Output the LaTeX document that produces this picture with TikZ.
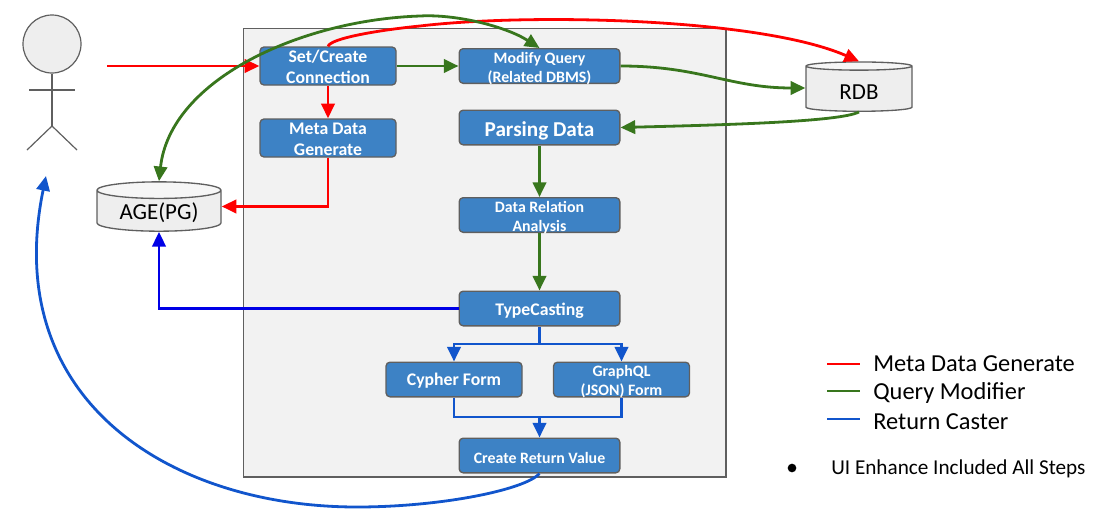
\documentclass[tikz,border=0pt]{standalone}
\usepackage{fontspec}
\setmainfont{Carlito}
\usepackage{xcolor}
\usetikzlibrary{arrows.meta, shapes.geometric}
\definecolor{boxblue}{HTML}{3D82C5}
\definecolor{edgegray}{HTML}{5F5F5F}
\definecolor{metared}{HTML}{FF0000}
\definecolor{querygreen}{HTML}{38761D}
\definecolor{castblue}{HTML}{1155CC}
\definecolor{pureblue}{HTML}{0000E6}
\newcommand{\boxtext}[2][6pt]{\raisebox{-#1}[0pt][0pt]{\begin{tabular}{@{}c@{}}#2\end{tabular}}}
\tikzset{
  procbox/.style={rectangle, draw=edgegray, line width=1pt, fill=boxblue, rounded corners=3pt,
                  inner sep=0pt, align=center, text=white, font=\fontsize{13.3}{14.5}\selectfont\bfseries},
  smalltext/.style={font=\fontsize{11.9}{14}\selectfont\bfseries},
  wide/.style={procbox, minimum width=120.5pt},
  narrow/.style={procbox, minimum width=102pt},
  dbcyl/.style={cylinder, shape border rotate=90, draw=edgegray, line width=1pt, aspect=0.21,
                cylinder uses custom fill, cylinder body fill=gray!13, cylinder end fill=gray!7,
                inner sep=0pt, font=\fontsize{17.2}{18}\selectfont},
  arr/.style={-{Triangle[length=11pt, width=10pt]}, line width=2.1pt},
  arrboth/.style={{Triangle[length=11pt, width=10pt]}-{Triangle[length=11pt, width=10pt]}, line width=2.1pt},
  plainline/.style={line width=2.1pt},
  stickman/.style={draw=edgegray, line width=0.9pt},
  legtext/.style={anchor=west, inner sep=0pt, font=\fontsize{18.3}{20}\selectfont},
}

\begin{document}
\begin{tikzpicture}[x=0.75pt, y=-0.75pt]
  \useasboundingbox (0,0) rectangle (1095,518);

  % Panel behind the steps
  \node[rectangle, draw=edgegray, line width=1pt, fill=gray!10, minimum width=362pt, minimum height=336.5pt,
        inner sep=0pt] at (484.5,252.5) (panel) {};

  % User
  \node[circle, stickman, fill=gray!13, minimum size=43.5pt, inner sep=0pt] at (52,44) (head) {};
  \coordinate (hip) at (52,126);
  \coordinate (armL) at (29,90);
  \coordinate (armR) at (75,90);
  \coordinate (footL) at (27,150);
  \coordinate (footR) at (77,150);
  \draw[stickman] (head.south) -- (hip);
  \draw[stickman] (armL) -- (armR);
  \draw[stickman] (footL) -- (hip) -- (footR);
  \coordinate (userOut) at (107,66);
  \coordinate (userIn) at (46,176);

  % Databases
  \node[dbcyl, minimum width=93pt, minimum height=37pt] at (159,211) (age) {\boxtext[7pt]{AGE(PG)}};
  \node[dbcyl, minimum width=79.5pt, minimum height=37pt] at (859,89) (rdb) {\boxtext[8.5pt]{RDB}};

  % Left column
  \node[narrow, minimum height=28.5pt] at (328,66) (conn) {\boxtext{Set/Create\\[1pt]Connection}};
  \node[narrow, minimum height=28.5pt] at (328,138) (meta) {\boxtext{Meta Data\\[1pt]Generate}};

  % Middle column
  \node[wide, smalltext, minimum height=26pt] at (539.5,66) (modify) {\boxtext[5.3pt]{Modify Query\\(Related DBMS)}};
  \node[wide, minimum height=26pt, font=\fontsize{15.9}{18}\selectfont\bfseries] at (539.5,127.5) (parse) {\boxtext[7.2pt]{Parsing Data}};
  \node[wide, smalltext, minimum height=26pt] at (539.5,215) (relate) {\boxtext[5.3pt]{Data Relation\\Analysis}};
  \node[wide, minimum height=26pt] at (539.5,308.5) (cast) {\boxtext{TypeCasting}};

  % Output forms
  \node[narrow, minimum height=26pt] at (454,379.5) (cypher) {\boxtext[5pt]{Cypher Form}};
  \node[narrow, smalltext, minimum height=26pt] at (621.5,379.5) (graphql) {\boxtext[5.3pt]{GraphQL\\(JSON) Form}};
  \node[wide, smalltext, minimum height=26pt] at (539.5,455.5) (retval) {\boxtext[6.5pt]{Create Return Value}};

  % Meta data path
  \draw[arr, metared] (userOut) -- (conn.west);
  \draw[arr, metared] (conn) -- (meta);
  \draw[arr, metared] (meta.south) |- ([yshift=3.4pt]age.east);
  \draw[arr, metared] (conn.north) .. controls (331,38) and (380,30) .. (420,26)
       .. controls (530,13) and (760,18) .. (rdb.north);

  % Query path
  \draw[arr, querygreen] (conn.east) -- (modify.west);
  \draw[arrboth, querygreen] (age.north) .. controls (170,80) and (300,20) .. (420,16)
       .. controls (455,14) and (505,26) .. (modify.north);
  \draw[arr, querygreen] (modify.east) .. controls (700,66) and (730,88) .. ([yshift=.75pt]rdb.west);
  \draw[arr, querygreen] (rdb.south) .. controls (840,122) and (720,125) .. (parse.east);
  \draw[arr, querygreen] (parse) -- (relate);
  \draw[arr, querygreen] (relate) -- (cast);

  % Return path
  \coordinate (split) at (539.5,344);
  \coordinate (merge) at (539.5,417);
  \draw[arr, pureblue] (cast.west) -| (age.south);
  \draw[plainline, castblue] (cast.south) -- (split);
  \draw[arr, castblue] (split) -| (cypher.north);
  \draw[arr, castblue] (split) -| (graphql.north);
  \draw[plainline, castblue] (cypher.south) |- (merge);
  \draw[plainline, castblue] (graphql.south) |- (merge);
  \draw[arr, castblue] (merge) -- (retval.north);
  \draw[arr, castblue] (retval.south) .. controls (525,490) and (440,507) .. (357,507)
       .. controls (170,507) and (0,400) .. (userIn);

  % Legend
  \coordinate (legA) at (827,364);
  \coordinate (legB) at (860,364);
  \coordinate (legC) at (827,391);
  \coordinate (legD) at (860,391);
  \coordinate (legE) at (827,419);
  \coordinate (legF) at (860,419);
  \draw[plainline, metared] (legA) -- (legB);
  \draw[plainline, querygreen] (legC) -- (legD);
  \draw[plainline, castblue] (legE) -- (legF);
  \node[legtext] at (873,364) (legMeta) {Meta Data Generate};
  \node[legtext] at (873,393) (legQuery) {Query Modifier};
  \node[legtext] at (873,422) (legCast) {Return Caster};
  \node[circle, fill=black, minimum size=6.5pt, inner sep=0pt] at (792,468) (dot) {};
  \node[legtext, font=\fontsize{15.9}{18}\selectfont] at (831,469) (legUI) {UI Enhance Included All Steps};

\end{tikzpicture}
\end{document}
